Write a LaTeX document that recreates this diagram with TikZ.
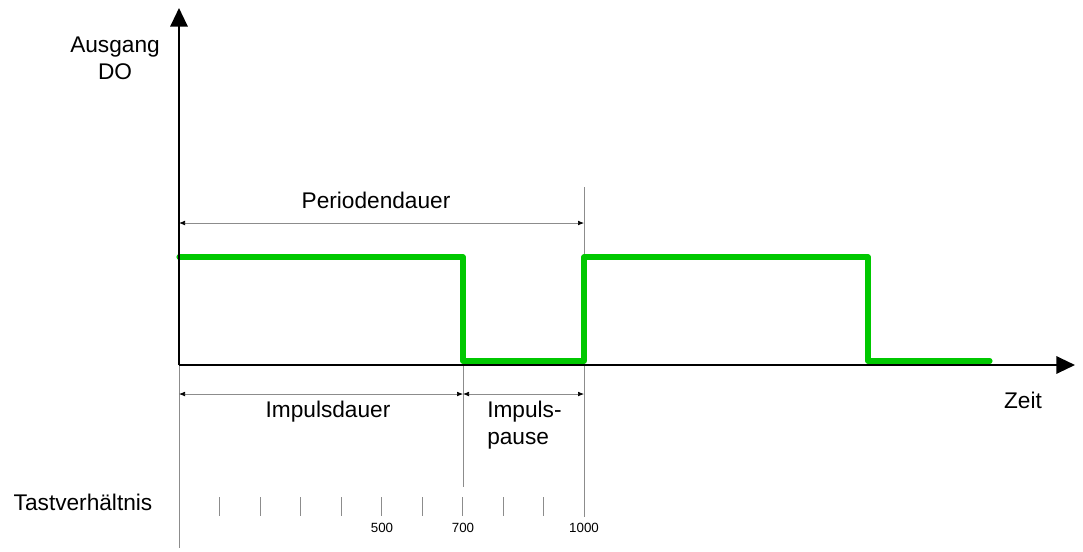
\documentclass[tikz,border=0pt]{standalone}
\usepackage{fontspec}
\setmainfont{Liberation Sans}
\usetikzlibrary{arrows.meta}
\definecolor{signalgreen}{RGB}{0,200,0}
\definecolor{guidegray}{RGB}{140,140,140}

\tikzset{
  axis/.style={black,line width=1.6pt,-{Triangle[length=14pt,width=13pt]}},
  guide/.style={guidegray,line width=0.5pt},
  dimarrow/.style={guide,{Latex[length=4.5pt,width=3.5pt,color=black]}-{Latex[length=4.5pt,width=3.5pt,color=black]}},
  signal/.style={signalgreen,line width=3.8pt,line cap=round,line join=round},
  txt/.style={font=\fontsize{17}{20}\selectfont,inner sep=0pt},
  ticktxt/.style={font=\fontsize{10}{12}\selectfont,inner sep=0pt}
}

\begin{document}
\begin{tikzpicture}[x=0.75pt,y=-0.75pt]
     \useasboundingbox (0,0) rectangle (1083,551);
     % Eckpunkte
     \coordinate (O)    at ( 179,365);
     \coordinate (xend) at (1075,365);
     \coordinate (yend) at ( 179,  8);
     \coordinate (pA)   at ( 179,223);
     \coordinate (pB)   at ( 584,223);
     \coordinate (iA)   at ( 179,394);
     \coordinate (iB)   at ( 463,394);
     \coordinate (iC)   at ( 584,394);
     % Hilfslinien
     \draw[guide] ( 179,365) -- ( 179,548);
     \draw[guide] ( 463,365) -- ( 463,487);
     \draw[guide] ( 584,187) -- ( 584,517);
     \foreach \i in {1,...,10}
       \draw[guide] (179+40.5*\i,497) -- (179+40.5*\i,516);
     % Signal
     \draw[signal] ( 179,257) -- ( 463,257) -- ( 463,361) -- ( 584,361)
       -- ( 584,257) -- ( 868,257) -- ( 868,361) -- ( 990,361);
     % Achsen
     \draw[axis] (O) -- (xend);
     \draw[axis] (O) -- (yend);
     % Bemassung
     \draw[dimarrow] (pA) -- (pB);
     \draw[dimarrow] (iA) -- (iB);
     \draw[dimarrow] (iB) -- (iC);
     % Texte
     \node[txt,align=center] (ausgang) at ( 115, 58) {Ausgang\\DO};
     \node[txt]              (zeit)    at (1023,400) {Zeit};
     \node[txt]              (periode) at ( 376,200) {Periodendauer};
     \node[txt]              (idauer)  at ( 328,412) {Impulsdauer};
     \node[txt,align=left,anchor=west] (ipause) at ( 487,425) {Impuls-\\pause};
     \node[txt]              (tast)    at (  83,502) {Tastverhältnis};
     \node[ticktxt]          (t500)    at ( 382,528) {500};
     \node[ticktxt]          (t700)    at ( 463,528) {700};
     \node[ticktxt]          (t1000)   at ( 584,528) {1000};
\end{tikzpicture}
\end{document}
